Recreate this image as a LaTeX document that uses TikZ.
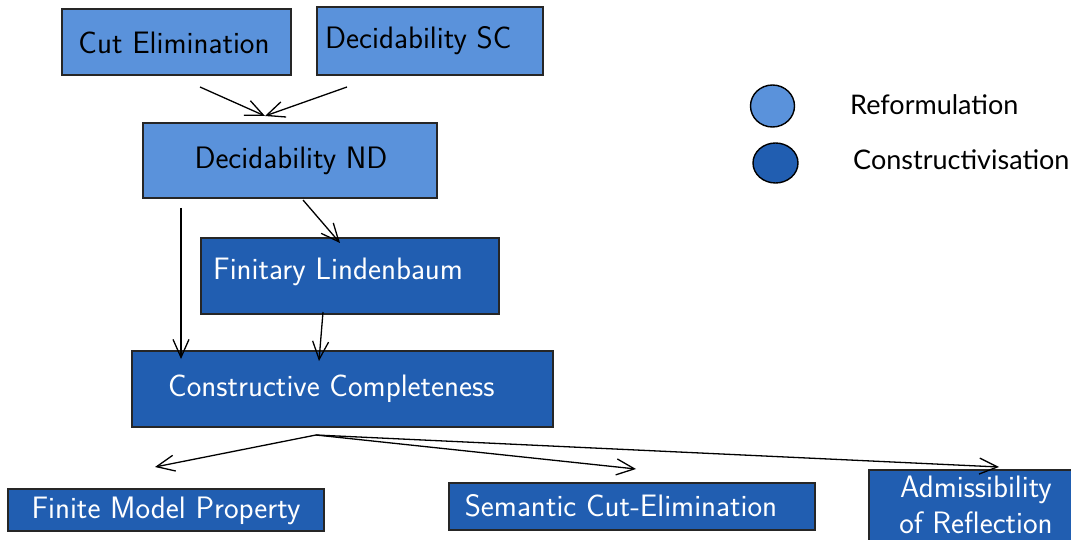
\documentclass[tikz,border=0pt]{standalone}
\usepackage{fontspec}
\newfontfamily\legendfont{Lato}
\usetikzlibrary{arrows.meta,shapes.geometric}
\definecolor{reform}{HTML}{5A92DB}
\definecolor{constr}{HTML}{215EB1}
\begin{document}
\begin{tikzpicture}[x=1pt,y=-1pt,
  box/.style={draw=black!85, line width=1.4pt, inner sep=0pt},
  rbox/.style={box, fill=reform},
  cbox/.style={box, fill=constr},
  lbl/.style={inner sep=0pt, font=\sffamily\fontsize{31}{36}\selectfont},
  wlbl/.style={lbl, text=white},
  arr/.style={line width=1.3pt, -{Straight Barb[length=18pt,width=16pt,line width=1.3pt]}},
  leg/.style={draw=black, line width=1.4pt, ellipse, inner sep=0pt},
  legtxt/.style={inner sep=0pt, anchor=west, font=\legendfont\fontsize{27}{31}\selectfont}
]
\useasboundingbox (0,0) rectangle (1071,540);
\clip (0,0) rectangle (1071,540);
% boxes
\node[rbox, minimum width=229pt, minimum height=66pt] (ce) at (176.5,42) {};
\node[lbl] (cet) at (174,43) {Cut Elimination};
\node[rbox, minimum width=226pt, minimum height=68pt] (sc) at (430,41) {};
\node[lbl, anchor=west] (sct) at (325,41) {Decidability SC};
\node[rbox, minimum width=294pt, minimum height=75pt] (nd) at (290,160.5) {};
\node[lbl] (ndt) at (291,161) {Decidability ND};
\node[cbox, minimum width=298pt, minimum height=76pt] (fl) at (350,276) {};
\node[wlbl, anchor=west] (flt) at (213,272) {Finitary Lindenbaum};
\node[cbox, minimum width=421pt, minimum height=76pt] (cc) at (342.5,389) {};
\node[wlbl, anchor=west] (cct) at (168,389) {Constructive Completeness};
\node[cbox, minimum width=316pt, minimum height=42pt] (fmp) at (166,510) {};
\node[wlbl] (fmpt) at (166,511) {Finite Model Property};
\node[cbox, minimum width=366pt, minimum height=47pt] (sce) at (632,506.5) {};
\node[wlbl] (scet) at (621,506) {Semantic Cut-Elimination};
\node[cbox, minimum width=220pt, minimum height=80pt] (ar) at (979,510) {};
\node[wlbl, align=center, font=\sffamily\fontsize{31}{36}\selectfont] (art) at (976,505) {Admissibility\\of Reflection};
% legend
\node[leg, fill=reform, minimum width=44pt, minimum height=42pt] (l1) at (772.5,106) {};
\node[legtxt] (l1t) at (850,105) {Reformulation};
\node[leg, fill=constr, minimum width=45pt, minimum height=40pt] (l2) at (775.5,163) {};
\node[legtxt] (l2t) at (853,160) {Constructivisation};
% connector endpoints
\coordinate (a1) at (200,87);
\coordinate (a2) at (347,87);
\coordinate (ndin) at (265,116);
\coordinate (nd1) at (181,208);
\coordinate (nd2) at (303,200);
\coordinate (flin) at (340,243);
\coordinate (ccin1) at (181,359);
\coordinate (flout) at (323,312);
\coordinate (ccin2) at (319,361);
\coordinate (ccout) at (316,435);
\coordinate (fmpin) at (155,467);
\coordinate (scein) at (636,469);
\coordinate (arin) at (999,467);
% connectors
\draw[arr] (a1) -- (ndin);
\draw[arr] (a2) -- (ndin);
\draw[arr] (nd1) -- (ccin1);
\draw[arr] (nd2) -- (flin);
\draw[arr] (flout) -- (ccin2);
\draw[arr] (ccout) -- (fmpin);
\draw[arr] (ccout) -- (scein);
\draw[arr] (ccout) -- (arin);
\end{tikzpicture}
\end{document}
